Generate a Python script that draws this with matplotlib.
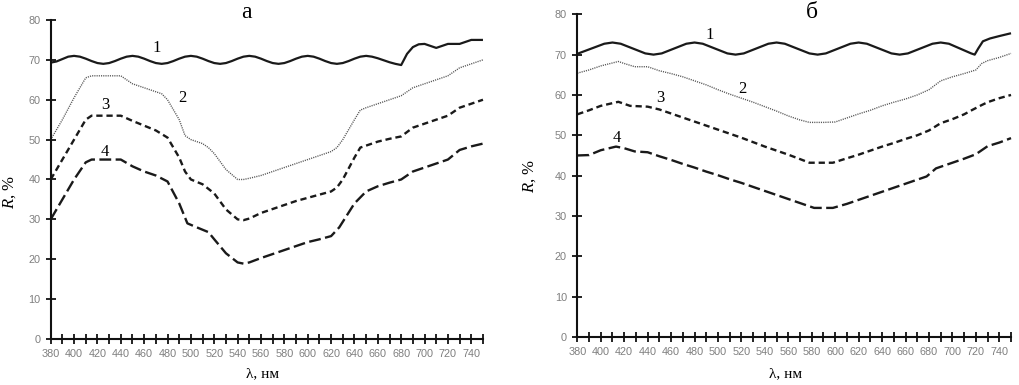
import matplotlib
matplotlib.use("Agg")
import matplotlib.pyplot as plt
from matplotlib.ticker import FixedLocator

plt.rcParams['mathtext.fontset'] = 'custom'
plt.rcParams['mathtext.rm'] = 'Liberation Serif'
plt.rcParams['mathtext.it'] = 'Liberation Serif:italic'
plt.rcParams['lines.scale_dashes'] = False

# ---------------- data: panel а ----------------
a1_x = [380, 385, 390, 395, 400, 405, 410, 415, 420, 425, 430, 435, 440, 445, 450, 455, 460, 465, 470, 475,
        480, 485, 490, 495, 500, 505, 510, 515, 520, 525, 530, 535, 540, 545, 550, 555, 560, 565, 570, 575,
        580, 585, 590, 595, 600, 605, 610, 615, 620, 625, 630, 635, 640, 645, 650, 655, 660, 665, 670, 675,
        680, 685, 690, 695, 700, 705, 710, 715, 720, 725, 730, 735, 740, 745, 750]
a1_y = [69.3, 69.6, 70.2, 70.8, 71.0, 70.8, 70.3, 69.7, 69.2, 69.0, 69.2, 69.7, 70.3, 70.8, 71.0, 70.8, 70.3, 69.7, 69.2, 69.0,
        69.2, 69.7, 70.3, 70.8, 71.0, 70.8, 70.3, 69.7, 69.2, 69.0, 69.2, 69.7, 70.3, 70.8, 71.0, 70.8, 70.3, 69.7, 69.2, 69.0,
        69.2, 69.7, 70.3, 70.8, 71.0, 70.8, 70.3, 69.7, 69.2, 69.0, 69.2, 69.7, 70.3, 70.8, 71.0, 70.8, 70.4, 69.9, 69.4, 69.0,
        68.7, 71.5, 73.2, 73.9, 74.0, 73.5, 73.0, 73.5, 74.0, 74.0, 74.0, 74.5, 75.0, 75.0, 75.0]

a2_x = [380, 390, 400, 410, 415, 440, 445, 450, 460, 470, 475, 480, 490, 495, 500, 505, 510, 515, 520, 530,
        540, 545, 550, 560, 570, 580, 590, 600, 610, 620, 625, 630, 640, 645, 650, 660, 670, 680, 690, 700,
        710, 720, 730, 740, 750]
a2_y = [50, 55, 60.5, 65.5, 66, 66, 65, 64, 63, 62, 61.5, 60, 55, 51, 50, 49.5, 49, 48, 46.5, 42.5,
        40, 40, 40.3, 41, 42, 43, 44, 45, 46, 47, 48, 50, 55, 57.4, 58, 59, 60, 61, 63, 64,
        65, 66, 68, 69, 70]

a3_x = [380, 390, 400, 410, 415, 440, 450, 460, 470, 480, 490, 495, 500, 510, 520, 530, 540, 545, 550, 560,
        570, 580, 590, 600, 610, 620, 625, 630, 640, 645, 650, 660, 670, 680, 690, 700, 710, 720, 730, 740, 750]
a3_y = [40, 45, 50, 55, 56, 56, 54.7, 53.5, 52.3, 50.5, 45.5, 42, 40, 38.8, 36.5, 32.5, 30, 29.8, 30.2, 31.6,
        32.6, 33.6, 34.6, 35.4, 36.2, 37, 38, 40, 45.5, 48, 48.5, 49.5, 50.2, 50.8, 53, 54, 55, 56, 58, 59, 60]

a4_x = [380, 390, 400, 410, 415, 440, 450, 460, 470, 480, 490, 497, 505, 515, 520, 530, 540, 545, 550, 560,
        570, 580, 590, 600, 610, 620, 627, 640, 650, 660, 670, 680, 690, 700, 710, 720, 730, 740, 750]
a4_y = [30, 35, 40, 44.3, 45, 45, 43.3, 42, 41, 39.5, 34, 29, 28, 26.8, 25, 21.5, 19.2, 18.9, 19.2, 20.3,
        21.3, 22.3, 23.3, 24.3, 25, 25.8, 28, 34, 37, 38.3, 39.2, 40, 42, 43, 44, 45, 47.4, 48.3, 49]

# ---------------- data: panel б ----------------
b1_x = [380, 403, 410, 417, 438, 445, 452, 473, 480, 487, 508, 515, 522, 543, 550, 557, 578, 585, 592, 613,
        620, 627, 648, 655, 662, 683, 690, 697, 716, 719, 722, 726, 732, 740, 750]
b1_y = [70.2, 72.7, 73, 72.7, 70.3, 70, 70.3, 72.7, 73, 72.7, 70.3, 70, 70.3, 72.7, 73, 72.7, 70.3, 70, 70.3, 72.7,
        73, 72.7, 70.3, 70, 70.3, 72.7, 73, 72.7, 70.3, 70, 71.5, 73.3, 74, 74.6, 75.3]

b2_x = [380, 390, 400, 415, 420, 429, 440, 450, 460, 470, 480, 490, 500, 510, 520, 530, 540, 550, 560, 570,
        578, 590, 600, 610, 620, 630, 640, 650, 660, 670, 680, 690, 700, 710, 720, 725, 730, 740, 750]
b2_y = [65.4, 66.2, 67.2, 68.3, 67.8, 67, 67, 66, 65.3, 64.5, 63.5, 62.5, 61.3, 60.2, 59.2, 58.2, 57.1, 56, 54.8, 53.8,
        53.2, 53.2, 53.3, 54.3, 55.3, 56.2, 57.3, 58.2, 59, 60, 61.3, 63.5, 64.5, 65.3, 66.2, 67.8, 68.5, 69.3, 70.3]

b3_x = [380, 390, 400, 415, 425, 440, 450, 460, 470, 480, 490, 500, 510, 520, 530, 540, 550, 560, 570, 578,
        598, 610, 620, 630, 640, 650, 660, 670, 680, 690, 700, 710, 717, 725, 730, 740, 750]
b3_y = [55.2, 56.2, 57.3, 58.3, 57.3, 57.1, 56.4, 55.4, 54.4, 53.4, 52.4, 51.4, 50.4, 49.4, 48.3, 47.2, 46.2, 45.2, 44.1, 43.2,
        43.2, 44.3, 45.2, 46.2, 47.2, 48.1, 49.1, 50, 51.2, 53, 54, 55.2, 56.3, 57.5, 58.2, 59.2, 60]

b4_x = [380, 390, 400, 413, 420, 429, 440, 450, 460, 470, 480, 490, 500, 510, 520, 530, 540, 550, 560, 570,
        582, 598, 610, 620, 630, 640, 650, 660, 670, 678, 686, 700, 710, 720, 730, 740, 750]
b4_y = [45, 45.1, 46.3, 47.2, 46.8, 46, 45.8, 44.8, 43.9, 42.9, 42, 41, 40.1, 39.1, 38.2, 37.2, 36.2, 35.2, 34.2, 33.2,
        32, 32, 33, 34, 35, 36, 37, 38, 39, 39.8, 41.8, 43.2, 44.2, 45.3, 47.3, 48.2, 49.3]

panel_titles = ['а', 'б']
curve_labels = ['1', '2', '3', '4']
label_pos_a = [(471, 73), (493, 60.4), (426.5, 58.6), (426.5, 46.9)]
label_pos_b = [(493, 74.9), (520.5, 61.6), (450.4, 59.2), (413.5, 49.3)]

xticks_major = list(range(380, 741, 20))
xticks_minor = list(range(390, 751, 20))
yticks = list(range(0, 81, 10))

fig = plt.figure(figsize=(10.2, 3.85), dpi=100)
axA = fig.add_axes([0.0497, 0.1195, 0.4238, 0.8286])
axB = fig.add_axes([0.566, 0.1247, 0.4252, 0.8382])

styles = [
    dict(color='#1a1a1a', lw=1.6, ls='-'),
    dict(color='#555555', lw=1.0, ls=(0, (0.8, 0.8))),
    dict(color='#1a1a1a', lw=1.7, ls=(0, (4.5, 2.8))),
    dict(color='#1a1a1a', lw=1.7, ls=(0, (8.5, 3.2))),
]

serif = 'Liberation Serif'

def setup(ax, xl_pos, yl_pos):
    ax.set_xlim(380, 750)
    ax.set_ylim(0, 80)
    for s in ['top', 'right']:
        ax.spines[s].set_visible(False)
    for s in ['left', 'bottom']:
        ax.spines[s].set_linewidth(1.5)
        ax.spines[s].set_color('#111111')
    ax.xaxis.set_major_locator(FixedLocator(xticks_major))
    ax.xaxis.set_minor_locator(FixedLocator(xticks_minor))
    ax.yaxis.set_major_locator(FixedLocator(yticks))
    ax.set_xticklabels([str(v) for v in xticks_major])
    ax.set_yticklabels([str(v) for v in yticks])
    ax.tick_params(which='both', direction='inout', length=7, width=1.3, color='#111111')
    ax.tick_params(axis='x', which='major', labelsize=7.8, labelcolor='#7f7f7f', pad=4)
    ax.tick_params(axis='y', which='major', labelsize=7.8, labelcolor='#7f7f7f', pad=4)
    for lab in ax.get_xticklabels() + ax.get_yticklabels():
        lab.set_fontfamily('Liberation Sans')
    ax.text(xl_pos[0], xl_pos[1], 'λ, нм', transform=ax.transAxes, ha='center', va='center',
            fontsize=11, family=serif)
    ax.text(yl_pos[0], yl_pos[1], r'$\mathit{R}$, %', transform=ax.transAxes, ha='center', va='center',
            fontsize=12, family=serif, rotation=90)

seriesA = [(a1_x, a1_y), (a2_x, a2_y), (a3_x, a3_y), (a4_x, a4_y)]
seriesB = [(b1_x, b1_y), (b2_x, b2_y), (b3_x, b3_y), (b4_x, b4_y)]

for (x, y), st in zip(seriesA, styles):
    axA.plot(x, y, solid_capstyle='butt', dash_capstyle='butt', clip_on=False, **st)
for (x, y), st in zip(seriesB, styles):
    axB.plot(x, y, solid_capstyle='butt', dash_capstyle='butt', clip_on=False, **st)

for lab, (lx, ly) in zip(curve_labels, label_pos_a):
    axA.text(lx, ly, lab, ha='center', va='center', fontsize=12, family=serif)
for lab, (lx, ly) in zip(curve_labels, label_pos_b):
    axB.text(lx, ly, lab, ha='center', va='center', fontsize=12, family=serif)

setup(axA, (0.489, -0.11), (-0.094, 0.46))
setup(axB, (0.479, -0.115), (-0.109, 0.499))

fig.text(246 / 1020, 1 - 18 / 385, panel_titles[0], ha='center', va='baseline', fontsize=17, family=serif)
fig.text(812 / 1020, 1 - 18 / 385, panel_titles[1], ha='center', va='baseline', fontsize=17, family=serif)

fig.savefig('out.png', dpi=100)
